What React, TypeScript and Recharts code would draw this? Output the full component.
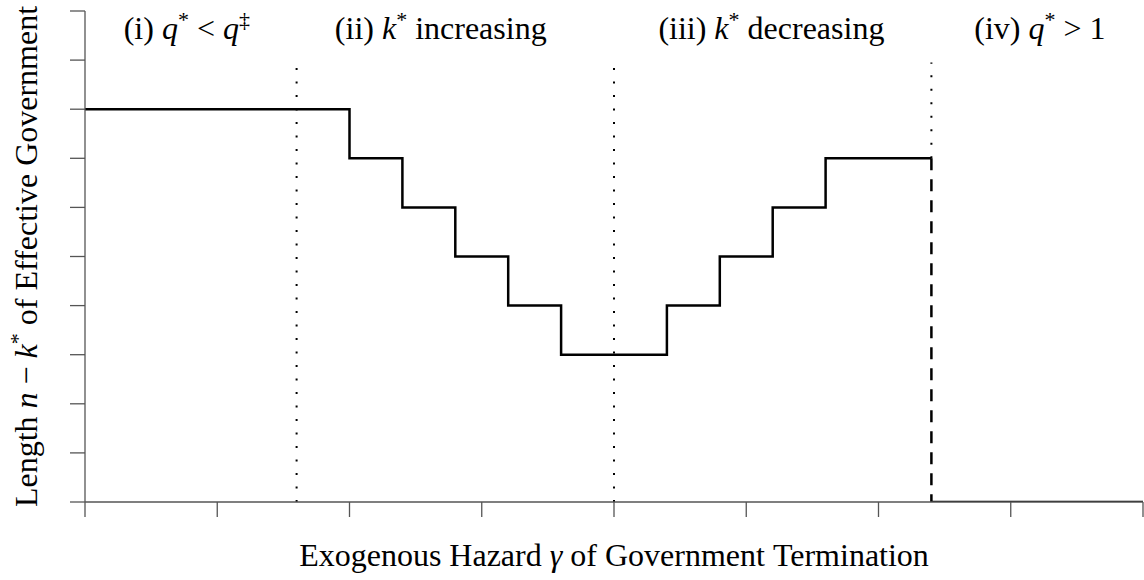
import React from "react";
import { LineChart, Line, XAxis, YAxis, ReferenceLine, ReferenceDot } from "recharts";

// ---- data ----
const xTicks = [0, 1, 2, 3, 4, 5, 6, 7, 8];
const yTicks = [0, 1, 2, 3, 4, 5, 6, 7, 8, 9, 10];
const stepX = [0, 2.0, 2.4, 2.8, 3.2, 3.6, 4.4, 4.8, 5.2, 5.6, 6.4];
const stepY = [8, 7, 6, 5, 4, 3, 4, 5, 6, 7, 7];
const dropX = 6.4;
const dropFrom = 7;
const dropTo = 0;
const tailEnd = 8;
const boundaryX = [1.6, 4.0, 6.4];
const boundaryBottom = [0, 0, 7];
const boundaryTop = 8.95;
const regionLabelX = [0.77, 2.69, 5.19, 7.22];
const regionLabelY = 9.43;

type Piece = { t: string; i?: boolean; sup?: boolean };
const regionLabels: Piece[][] = [
  [{ t: "(i) " }, { t: "q", i: true }, { t: "*", sup: true }, { t: " < " }, { t: "q", i: true }, { t: "‡", sup: true }],
  [{ t: "(ii) " }, { t: "k", i: true }, { t: "*", sup: true }, { t: " increasing" }],
  [{ t: "(iii) " }, { t: "k", i: true }, { t: "*", sup: true }, { t: " decreasing" }],
  [{ t: "(iv) " }, { t: "q", i: true }, { t: "*", sup: true }, { t: " > 1" }],
];
const xLabel: Piece[] = [{ t: "Exogenous Hazard " }, { t: "γ", i: true }, { t: " of Government Termination" }];
const yLabel: Piece[] = [{ t: "Length " }, { t: "n", i: true }, { t: " − " }, { t: "k", i: true }, { t: "*", sup: true }, { t: " of Effective Government" }];

const mainData = stepX.map((x, idx) => ({ x, y: stepY[idx] }));
const dropData = [{ x: dropX, y: dropFrom }, { x: dropX, y: dropTo }];
const tailData = [{ x: dropX, y: dropTo }, { x: tailEnd, y: dropTo }];

const FONT = "'Liberation Serif', 'DejaVu Serif', serif";
const FS = 32;
const SUP = 22;
const RAISE = 12;

function renderPieces(pieces: Piece[]) {
  const out: React.ReactNode[] = [];
  let raised = false;
  pieces.forEach((p, k) => {
    let dy: number | undefined = undefined;
    if (p.sup && !raised) { dy = -RAISE; raised = true; }
    else if (!p.sup && raised) { dy = RAISE; raised = false; }
    out.push(
      <tspan key={k} dy={dy} fontStyle={p.i ? "italic" : "normal"} fontSize={p.sup ? SUP : FS}>
        {p.t.replace(/ /g, "\u00a0")}
      </tspan>
    );
  });
  return out;
}

function MathText({ x, y, pieces, rotate }: { x: number; y: number; pieces: Piece[]; rotate?: boolean }) {
  return (
    <text
      x={x}
      y={y}
      textAnchor="middle"
      fontFamily={FONT}
      fontSize={FS}
      fill="#000"
      transform={rotate ? `rotate(-90, ${x}, ${y})` : undefined}
    >
      {renderPieces(pieces)}
    </text>
  );
}

const AXIS = "#555";
const noLabel = () => "";

export default function App() {
  return (
    <div style={{ position: "absolute", left: 0, top: 0, background: "#fff" }}>
      <LineChart width={1144} height={580} margin={{ top: 11, right: 1, bottom: 0, left: 0 }}>
        <XAxis
          type="number"
          dataKey="x"
          domain={[0, 8]}
          ticks={xTicks}
          tickFormatter={noLabel}
          tickSize={15}
          height={78}
          stroke={AXIS}
          axisLine={{ stroke: AXIS, strokeWidth: 1.3 }}
          tickLine={{ stroke: AXIS, strokeWidth: 1.3 }}
          allowDataOverflow
          label={{
            content: (props: any) => {
              const vb = props.viewBox;
              return <MathText x={vb.x + vb.width / 2} y={vb.y + 64} pieces={xLabel} />;
            },
          }}
        />
        <YAxis
          type="number"
          dataKey="y"
          domain={[0, 10]}
          ticks={yTicks}
          tickFormatter={noLabel}
          tickSize={15}
          width={85}
          stroke={AXIS}
          axisLine={{ stroke: AXIS, strokeWidth: 1.3 }}
          tickLine={{ stroke: AXIS, strokeWidth: 1.3 }}
          allowDataOverflow
          label={{
            content: (props: any) => {
              const vb = props.viewBox;
              return <MathText x={37} y={vb.y + vb.height / 2} pieces={yLabel} rotate />;
            },
          }}
        />
        {boundaryX.map((bx, idx) => (
          <ReferenceLine
            key={bx}
            segment={[{ x: bx, y: boundaryBottom[idx] }, { x: bx, y: boundaryTop }]}
            stroke="#000"
            strokeWidth={2}
            strokeDasharray="2 11.5"
          />
        ))}
        <Line
          data={mainData}
          dataKey="y"
          type="stepAfter"
          stroke="#000"
          strokeWidth={2.5}
          dot={false}
          isAnimationActive={false}
        />
        <Line
          data={dropData}
          dataKey="y"
          type="linear"
          stroke="#000"
          strokeWidth={2.5}
          strokeDasharray="12 9"
          dot={false}
          isAnimationActive={false}
        />
        <Line
          data={tailData}
          dataKey="y"
          type="linear"
          stroke="#000"
          strokeWidth={2.5}
          dot={false}
          isAnimationActive={false}
        />
        {regionLabels.map((pieces, idx) => (
          <ReferenceDot
            key={idx}
            x={regionLabelX[idx]}
            y={regionLabelY}
            r={0}
            shape={(p: any) => <MathText x={p.cx} y={p.cy} pieces={pieces} />}
          />
        ))}
      </LineChart>
    </div>
  );
}
